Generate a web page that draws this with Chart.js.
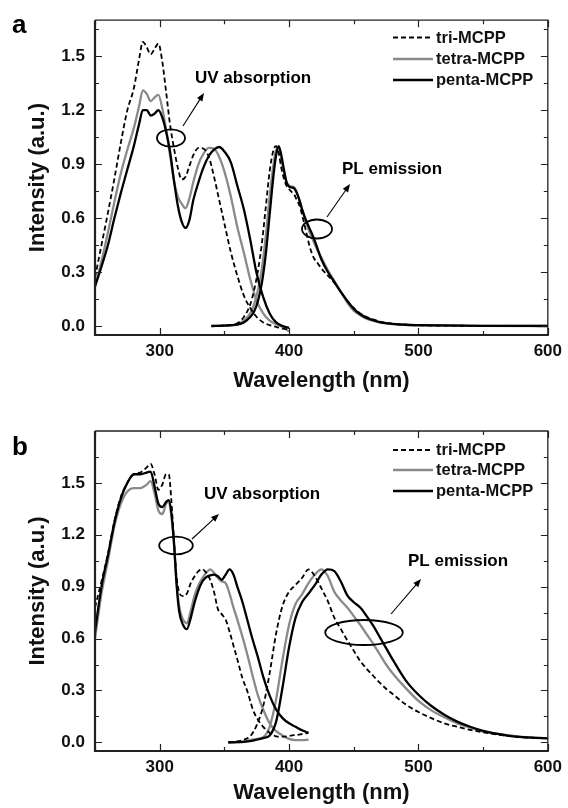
<!DOCTYPE html>
<html>
<head>
<meta charset="utf-8">
<script src="https://cdn.jsdelivr.net/npm/chart.js@4.4.1/dist/chart.umd.min.js"></script>
<style>
html,body{margin:0;padding:0;background:#fff;}
canvas{display:block;}
</style>
</head>
<body>
<canvas id="chartA" width="568" height="404"></canvas>
<canvas id="chartB" width="568" height="404"></canvas>
<script>
const seriesNames = ["tri-MCPP", "tetra-MCPP", "penta-MCPP"];
const xMajor = [300, 400, 500, 600];
const xMinor = [250, 350, 450, 550];
const yMajor = [0.0, 0.3, 0.6, 0.9, 1.2, 1.5];
const yMinor = [0.15, 0.45, 0.75, 1.05, 1.35, 1.65];

// panel a : UV absorption
const aUvNm = [250,255,260,265,270,275,280,284,287,290,293,296,299,302,305,308,311,314,317,320,323,326,330,334,338,342,346,350,355,360,365,370,375,380,385,390,395,400];
const aUvTri = [0.27,0.45,0.63,0.82,1.02,1.20,1.32,1.48,1.58,1.55,1.51,1.54,1.57,1.47,1.30,1.12,0.99,0.88,0.815,0.83,0.89,0.95,0.99,0.985,0.94,0.83,0.70,0.57,0.41,0.28,0.17,0.10,0.05,0.02,0.005,-0.005,-0.015,-0.02];
const aUvTetra = [0.22,0.36,0.52,0.69,0.85,0.98,1.10,1.22,1.31,1.29,1.25,1.27,1.285,1.21,1.09,0.95,0.81,0.72,0.68,0.655,0.71,0.80,0.90,0.96,0.99,0.985,0.94,0.86,0.72,0.55,0.41,0.26,0.14,0.07,0.03,0.01,-0.005,-0.03];
const aUvPenta = [0.22,0.33,0.45,0.60,0.74,0.87,1.00,1.12,1.20,1.20,1.17,1.18,1.20,1.16,1.08,0.97,0.81,0.67,0.58,0.545,0.59,0.70,0.80,0.885,0.945,0.98,0.995,0.97,0.91,0.78,0.65,0.48,0.29,0.16,0.07,0.02,0.0,-0.01];

// panel a : PL emission
const aPlNm = [340,350,360,365,370,373,376,379,382,385,388,390,392,394,396,398,400,402,404,406,408,410,413,416,419,422,425,430,435,440,445,450,455,460,470,480,490,500,520,550,600];
const aPlTri = [0,0.003,0.015,0.05,0.12,0.20,0.31,0.46,0.66,0.86,0.98,1.0,0.96,0.88,0.82,0.78,0.76,0.745,0.73,0.70,0.67,0.62,0.53,0.44,0.38,0.35,0.32,0.28,0.24,0.19,0.14,0.10,0.07,0.05,0.025,0.012,0.007,0.004,0.002,0.001,0];
const aPlTetra = [0,0.003,0.01,0.03,0.07,0.12,0.20,0.32,0.50,0.72,0.90,0.98,0.99,0.93,0.86,0.80,0.78,0.775,0.77,0.74,0.70,0.65,0.58,0.52,0.47,0.42,0.38,0.31,0.25,0.19,0.13,0.085,0.06,0.04,0.02,0.01,0.006,0.004,0.002,0.001,0];
const aPlPenta = [0,0.002,0.008,0.02,0.05,0.08,0.14,0.24,0.40,0.62,0.84,0.95,1.0,0.95,0.87,0.80,0.775,0.77,0.765,0.74,0.70,0.65,0.59,0.54,0.49,0.43,0.37,0.30,0.245,0.19,0.14,0.095,0.065,0.045,0.022,0.012,0.007,0.005,0.003,0.001,0];

// panel b : UV absorption
const bUvNm = [250,255,260,265,270,275,280,285,290,293,296,299,302,305,307,309,311,313,315,318,321,324,327,330,333,336,339,342,345,348,351,354,357,360,364,368,372,376,380,385,390,395,400,405,410,415];
const bUvTri = [0.78,0.93,1.09,1.28,1.42,1.50,1.55,1.56,1.59,1.61,1.55,1.46,1.49,1.55,1.55,1.40,1.17,0.96,0.87,0.845,0.86,0.92,0.96,0.99,1.0,0.98,0.94,0.87,0.77,0.74,0.71,0.64,0.56,0.48,0.37,0.29,0.19,0.13,0.09,0.055,0.035,0.033,0.037,0.042,0.048,0.055];
const bUvTetra = [0.60,0.86,1.05,1.25,1.38,1.45,1.47,1.47,1.49,1.51,1.44,1.34,1.32,1.38,1.39,1.31,1.15,0.93,0.79,0.71,0.69,0.76,0.85,0.91,0.95,0.98,1.0,0.98,0.95,0.93,0.92,0.86,0.78,0.71,0.61,0.50,0.38,0.27,0.19,0.11,0.065,0.04,0.02,0.013,0.013,0.015];
const bUvPenta = [0.64,0.90,1.08,1.27,1.41,1.50,1.55,1.55,1.56,1.565,1.48,1.38,1.36,1.39,1.40,1.33,1.16,0.92,0.76,0.68,0.655,0.72,0.81,0.88,0.93,0.955,0.965,0.97,0.96,0.94,0.97,1.0,0.97,0.90,0.81,0.70,0.59,0.49,0.38,0.27,0.19,0.14,0.11,0.09,0.07,0.055];

// panel b : PL emission
const bPlNm = [353,360,365,370,375,380,385,390,395,400,405,410,415,420,425,430,435,440,445,450,455,460,465,470,475,480,490,500,510,520,530,540,550,560,570,580,590,600];
const bPlTri = [0,0.005,0.015,0.035,0.10,0.21,0.40,0.63,0.79,0.87,0.91,0.95,1.0,0.96,0.89,0.815,0.72,0.655,0.59,0.53,0.47,0.425,0.385,0.345,0.31,0.28,0.22,0.175,0.14,0.11,0.09,0.072,0.058,0.046,0.037,0.03,0.026,0.023];
const bPlTetra = [0,0.002,0.006,0.013,0.02,0.03,0.09,0.25,0.48,0.68,0.80,0.855,0.92,0.97,1.0,0.96,0.87,0.82,0.78,0.73,0.68,0.625,0.57,0.51,0.45,0.40,0.315,0.24,0.185,0.145,0.11,0.085,0.062,0.05,0.04,0.032,0.027,0.023];
const bPlPenta = [0,0.001,0.003,0.007,0.015,0.025,0.04,0.12,0.32,0.55,0.72,0.81,0.86,0.91,0.97,1.0,0.99,0.93,0.85,0.81,0.78,0.73,0.675,0.61,0.545,0.48,0.36,0.275,0.21,0.16,0.12,0.09,0.066,0.05,0.038,0.03,0.026,0.023];

const seriesStyle = [
  {color: "#000000", dash: [5, 3], width: 1.8, order: 0},
  {color: "#8a8a8a", dash: [], width: 2.3, order: 2},
  {color: "#000000", dash: [], width: 2.3, order: 1}
];

Chart.defaults.font.family = "'Liberation Sans', Arial, Helvetica, sans-serif";
Chart.defaults.font.weight = "bold";
Chart.defaults.color = "#111";

function toPoints(xs, ys) {
  return xs.map((x, i) => ({x: x, y: ys[i]}));
}

function makeDatasets(uvNm, uvSets, plNm, plSets) {
  const out = [];
  seriesNames.forEach((name, i) => {
    const st = seriesStyle[i];
    [[uvNm, uvSets[i]], [plNm, plSets[i]]].forEach(pair => {
      out.push({
        label: name,
        data: toPoints(pair[0], pair[1]),
        borderColor: st.color,
        borderWidth: st.width,
        borderDash: st.dash,
        pointRadius: 0,
        fill: false,
        order: st.order,
        cubicInterpolationMode: "monotone"
      });
    });
  });
  return out;
}

function arrow(ctx, x0, y0, x1, y1) {
  const a = Math.atan2(y1 - y0, x1 - x0);
  const hl = 8, hw = 3.2;
  ctx.lineWidth = 1.1;
  ctx.beginPath();
  ctx.moveTo(x0, y0);
  ctx.lineTo(x1 - hl * 0.8 * Math.cos(a), y1 - hl * 0.8 * Math.sin(a));
  ctx.stroke();
  ctx.beginPath();
  ctx.moveTo(x1, y1);
  ctx.lineTo(x1 - hl * Math.cos(a) + hw * Math.sin(a), y1 - hl * Math.sin(a) - hw * Math.cos(a));
  ctx.lineTo(x1 - hl * Math.cos(a) - hw * Math.sin(a), y1 - hl * Math.sin(a) + hw * Math.cos(a));
  ctx.closePath();
  ctx.fill();
}

// frame, inward ticks, legend and notes
function makeDecor(cfg) {
  return {
    id: "decor",
    afterDatasetsDraw(chart) {
      const ctx = chart.ctx;
      const ca = chart.chartArea;
      const x = chart.scales.x, y = chart.scales.y;
      ctx.save();
      ctx.strokeStyle = "#222";
      ctx.lineWidth = 1.2;
      ctx.beginPath();
      xMajor.concat(xMinor).forEach(v => {
        const len = xMajor.includes(v) ? 7 : 4;
        const px = Math.round(x.getPixelForValue(v)) + 0.5;
        ctx.moveTo(px, ca.bottom); ctx.lineTo(px, ca.bottom - len);
        ctx.moveTo(px, ca.top); ctx.lineTo(px, ca.top + len);
      });
      yMajor.concat(yMinor).forEach(v => {
        if (v > y.max) return;
        const len = yMajor.includes(v) ? 7 : 4;
        const py = Math.round(y.getPixelForValue(v)) + 0.5;
        ctx.moveTo(ca.left, py); ctx.lineTo(ca.left + len, py);
        ctx.moveTo(ca.right, py); ctx.lineTo(ca.right - len, py);
      });
      ctx.stroke();
      ctx.strokeStyle = "#222";
      ctx.lineWidth = 1.3;
      ctx.beginPath();
      ctx.moveTo(ca.left, ca.top); ctx.lineTo(ca.right, ca.top); ctx.lineTo(ca.right, ca.bottom);
      ctx.stroke();
      ctx.lineWidth = 2.2;
      ctx.beginPath();
      ctx.moveTo(ca.left, ca.top); ctx.lineTo(ca.left, ca.bottom); ctx.lineTo(ca.right + 1, ca.bottom);
      ctx.stroke();

      // legend
      ctx.font = "bold 16.5px 'Liberation Sans', Arial, sans-serif";
      ctx.fillStyle = "#111";
      ctx.textBaseline = "middle";
      seriesNames.forEach((name, i) => {
        const st = seriesStyle[i];
        const ly = cfg.legendY[i];
        ctx.strokeStyle = st.color;
        ctx.lineWidth = st.width;
        ctx.setLineDash(st.dash);
        ctx.beginPath();
        ctx.moveTo(393, ly); ctx.lineTo(433, ly);
        ctx.stroke();
        ctx.setLineDash([]);
        ctx.fillText(name, 436, ly + 0.5);
      });

      // notes
      ctx.strokeStyle = "#000";
      ctx.fillStyle = "#000";
      ctx.textBaseline = "alphabetic";
      ctx.font = "bold 17px 'Liberation Sans', Arial, sans-serif";
      cfg.notes.forEach(n => {
        ctx.fillText(n.text, n.tx, n.ty);
        ctx.lineWidth = 1.8;
        ctx.beginPath();
        ctx.ellipse(n.ex, n.ey, n.rx, n.ry, 0, 0, Math.PI * 2);
        ctx.stroke();
        arrow(ctx, n.ax0, n.ay0, n.ax1, n.ay1);
      });
      ctx.font = "bold 26px 'Liberation Sans', Arial, sans-serif";
      ctx.fillText(cfg.panel, 12, cfg.panelY);
      ctx.restore();
    }
  };
}

function makeChart(id, datasets, yMax, pad, xHeight, xTitlePad, cfg) {
  return new Chart(document.getElementById(id), {
    type: "line",
    data: {datasets: datasets},
    options: {
      responsive: false,
      animation: false,
      events: [],
      devicePixelRatio: 1,
      layout: {padding: {top: pad, right: 15, left: 0, bottom: 0}},
      plugins: {legend: {display: false}, tooltip: {enabled: false}},
      scales: {
        x: {
          type: "linear",
          min: 250, max: 600,
          grid: {display: false, drawTicks: false},
          border: {display: false},
          afterBuildTicks: s => { s.ticks = xMajor.map(v => ({value: v})); },
          afterFit: s => { s.height = xHeight; },
          ticks: {padding: 6, maxRotation: 0, font: {size: 17, weight: "bold"}, color: "#111",
                  callback: v => String(v)},
          title: {display: true, text: "Wavelength (nm)", color: "#111",
                  font: {size: 22, weight: "bold"}, padding: {top: 0, bottom: xTitlePad}}
        },
        y: {
          type: "linear",
          min: -0.05, max: yMax,
          grid: {display: false, drawTicks: false},
          border: {display: false},
          afterBuildTicks: s => { s.ticks = yMajor.map(v => ({value: v})); },
          afterFit: s => { s.width = 95; },
          ticks: {padding: 10, font: {size: 17, weight: "bold"}, color: "#111",
                  callback: v => Number(v).toFixed(1)},
          title: {display: true, text: "Intensity (a.u.)", color: "#111",
                  font: {size: 22, weight: "bold"}, padding: {top: 25, bottom: 0}}
        }
      }
    },
    plugins: [makeDecor(cfg)]
  });
}

makeChart("chartA",
  makeDatasets(aUvNm, [aUvTri, aUvTetra, aUvPenta], aPlNm, [aPlTri, aPlTetra, aPlPenta]),
  1.7, 15, 69, 10,
  {
    panel: "a", panelY: 33,
    legendY: [37.5, 59, 80],
    notes: [
      {text: "UV absorption", tx: 195, ty: 83, ex: 171, ey: 138, rx: 14, ry: 8.7, ax0: 183, ay0: 126, ax1: 204, ay1: 93},
      {text: "PL emission", tx: 342, ty: 174, ex: 317, ey: 229, rx: 15, ry: 9.5, ax0: 327, ay0: 217, ax1: 350, ay1: 184}
    ]
  });

makeChart("chartB",
  makeDatasets(bUvNm, [bUvTri, bUvTetra, bUvPenta], bPlNm, [bPlTri, bPlTetra, bPlPenta]),
  1.8, 27, 57, 2,
  {
    panel: "b", panelY: 51,
    legendY: [46, 66, 87],
    notes: [
      {text: "UV absorption", tx: 204, ty: 95, ex: 176, ey: 141.5, rx: 16.8, ry: 8.8, ax0: 192, ay0: 135, ax1: 219, ay1: 110},
      {text: "PL emission", tx: 408, ty: 162, ex: 364, ey: 228.5, rx: 38.8, ry: 12.5, ax0: 391, ay0: 210, ax1: 421, ay1: 175}
    ]
  });
</script>
</body>
</html>
